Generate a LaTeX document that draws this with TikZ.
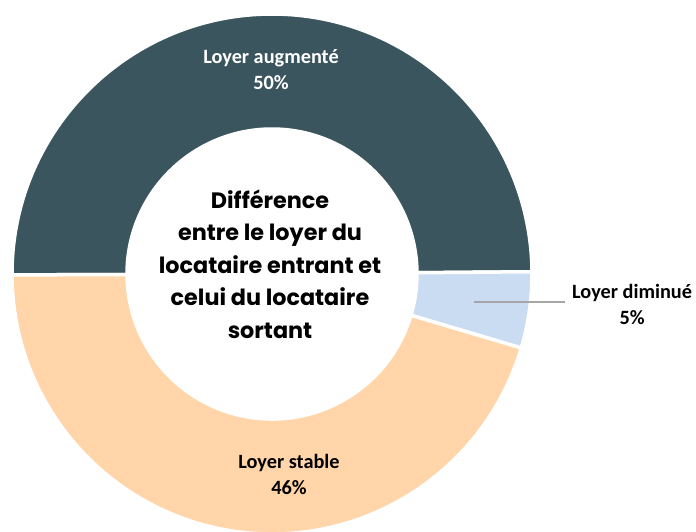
\documentclass[tikz,border=0pt]{standalone}
\usepackage{fontspec}
\usetikzlibrary{calc}
\setmainfont{Carlito}
\newfontfamily\geofont{Poppins}
\definecolor{darkslice}{HTML}{3A555E}
\definecolor{peachslice}{HTML}{FFD5A9}
\definecolor{blueslice}{HTML}{C9DCF1}
\definecolor{leader}{HTML}{A6A6A6}
\begin{document}
\begin{tikzpicture}[x=1pt,y=1pt,
  slice/.style={draw=white,line width=3.5pt,line join=miter},
  lbl/.style={font=\fontsize{20.3}{26}\selectfont\bfseries,align=center,inner sep=0pt},
  centertxt/.style={font=\geofont\fontsize{22.3}{32.5}\selectfont\bfseries,align=center,inner sep=0pt}]
\useasboundingbox (0,0) rectangle (696,531);
\def\Ro{260}\def\Ri{145}
\coordinate (c) at (272,257);
% dark slice
\fill[darkslice,slice] ($(c)+(0.5:\Ro)$) arc[start angle=0.5,end angle=180.2,radius=\Ro]
  -- ($(c)+(180.2:\Ri)$) arc[start angle=180.2,end angle=0.5,radius=\Ri] -- cycle;
% peach slice
\fill[peachslice,slice] ($(c)+(180.2:\Ro)$) arc[start angle=180.2,end angle=343.5,radius=\Ro]
  -- ($(c)+(343.5:\Ri)$) arc[start angle=343.5,end angle=180.2,radius=\Ri] -- cycle;
% blue slice
\begin{scope}[shift={(-8:1.5)}]
\fill[blueslice,slice] ($(c)+(343.5:\Ro)$) arc[start angle=343.5,end angle=360.5,radius=\Ro]
  -- ($(c)+(0.5:\Ri)$) arc[start angle=360.5,end angle=343.5,radius=\Ri] -- cycle;
\end{scope}
\node[lbl,text=white] (aug) at (271,461) {Loyer augmenté\\50\%};
\node[lbl] (stab) at (289,57) {Loyer stable\\46\%};
\node[lbl,anchor=west] (dim) at (572,227) {Loyer diminué\\5\%};
\coordinate (lp) at (474,229);
\coordinate (le) at (565,229);
\draw[leader,line width=1.5pt] (lp) -- (le);
\node[centertxt] (ctr) at (270,267) {Différence\\entre le loyer du\\locataire entrant et\\celui du locataire\\sortant};
\end{tikzpicture}
\end{document}
